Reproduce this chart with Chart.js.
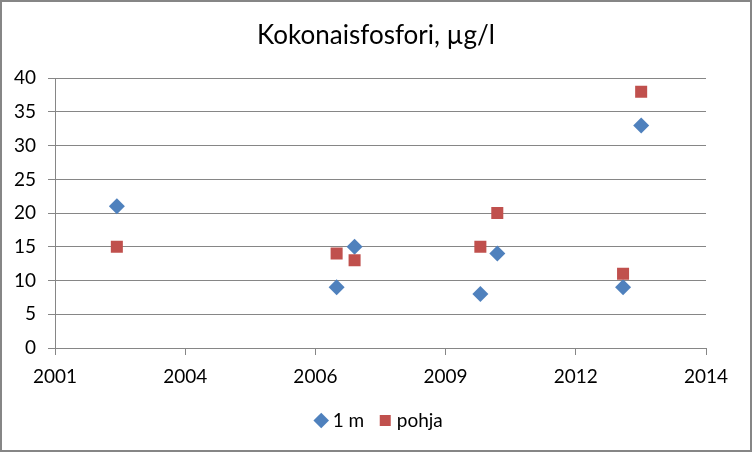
<!DOCTYPE html>
<html>
<head>
<meta charset="utf-8">
<script src="https://cdn.jsdelivr.net/npm/chart.js@4.4.1/dist/chart.umd.min.js"></script>
<style>
  body { margin: 0; background: #fff; }
  #wrap { width: 752px; height: 452px; box-sizing: border-box; border: 2px solid #868686; }
</style>
</head>
<body>
<div id="wrap"><canvas id="chart" width="748" height="448"></canvas></div>
<script>
const sampleDates = ["2002-08-07", "2007-03-22", "2007-08-07", "2010-03-30", "2010-08-07", "2013-03-30", "2013-08-16"];
const surfaceValues = [21, 9, 15, 8, 14, 9, 33];   // 1 m
const bottomValues = [15, 14, 13, 15, 20, 11, 38]; // pohja
const seriesNames = ["1 m", "pohja"];
const yTicks = [0, 5, 10, 15, 20, 25, 30, 35, 40];

// Excel-style serial day numbers, so the date axis steps 1000 days like the original
const DAY = 86400000;
const EPOCH = Date.UTC(1899, 11, 30);
const toSerial = s => (Date.parse(s + "T00:00:00Z") - EPOCH) / DAY;
const serialYear = v => new Date(EPOCH + v * DAY).getUTCFullYear();

const font = "Lato, 'Noto Sans', sans-serif";
const gridColor = "#868686";

new Chart(document.getElementById("chart"), {
    type: "scatter",
    plugins: [{
        // legend rows are centred with a trailing padding, nudge it back to the middle
        id: "legendNudge",
        afterLayout: (chart) => {
            chart.legend.left += 5;
            chart.legend.right += 5;
        }
    }],
    data: {
        datasets: [
            {
                label: seriesNames[0],
                data: sampleDates.map((d, i) => ({x: toSerial(d), y: surfaceValues[i]})),
                pointStyle: "rectRot",
                pointRadius: 8,
                backgroundColor: "#4F81BD",
                borderWidth: 0,
                order: 1
            },
            {
                label: seriesNames[1],
                data: sampleDates.map((d, i) => ({x: toSerial(d), y: bottomValues[i]})),
                pointStyle: "rect",
                pointRadius: 8.5,
                backgroundColor: "#C0504D",
                borderWidth: 0,
                order: 0
            }
        ]
    },
    options: {
        responsive: false,
        animation: false,
        events: [],
        layout: { padding: { left: 0, right: 0, top: 0, bottom: 10 } },
        scales: {
            x: {
                type: "linear",
                min: 37000,
                max: 42000,
                ticks: {
                    stepSize: 1000,
                    color: "#000",
                    font: { family: font, size: 19 },
                    padding: 10,
                    maxRotation: 0,
                    callback: v => serialYear(v)
                },
                grid: { drawOnChartArea: false, drawTicks: true, tickLength: 7, color: gridColor },
                border: { display: true, color: gridColor },
                afterFit: s => { s.height = 44; }
            },
            y: {
                min: 0,
                max: 40,
                afterBuildTicks: s => { s.ticks = yTicks.map(v => ({value: v})); },
                ticks: {
                    color: "#000",
                    font: { family: font, size: 19 },
                    padding: 12
                },
                grid: { color: gridColor, tickLength: 7 },
                border: { display: true, color: gridColor },
                afterFit: s => { s.width = 53; }
            },
            // empty right axis, only to keep the gap on the right while title and legend stay centred
            yRight: {
                position: "right",
                ticks: { display: false },
                grid: { display: false },
                border: { display: false },
                afterFit: s => { s.width = 44; }
            }
        },
        plugins: {
            tooltip: { enabled: false },
            title: {
                display: true,
                text: "Kokonaisfosfori, µg/l",
                color: "#000",
                font: { family: font, size: 26, weight: "normal" },
                padding: { top: 18, bottom: 27 }
            },
            legend: {
                position: "bottom",
                labels: {
                    usePointStyle: true,
                    boxHeight: 11,
                    boxWidth: 4,
                    padding: 19,
                    color: "#000",
                    font: { family: font, size: 19 },
                    sort: (a, b) => a.datasetIndex - b.datasetIndex
                }
            }
        }
    }
});
</script>
</body>
</html>
